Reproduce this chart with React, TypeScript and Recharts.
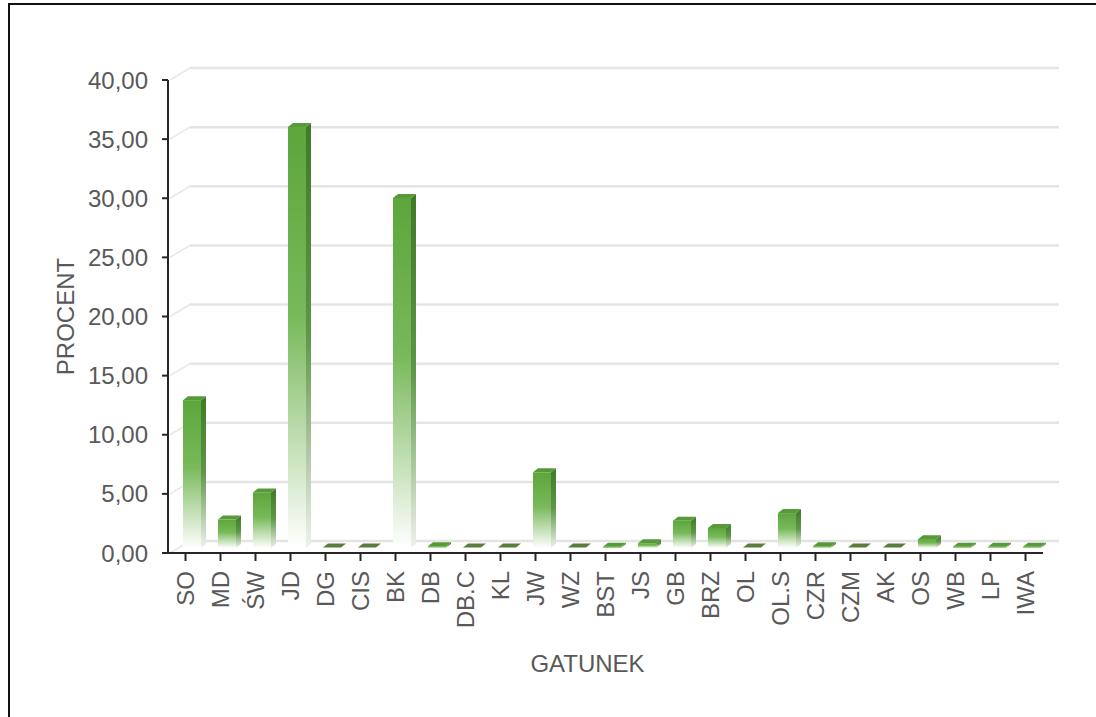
import { BarChart, Bar, XAxis, YAxis, CartesianGrid } from 'recharts'

const categories = [
  'SO', 'MD', 'ŚW', 'JD', 'DG', 'CIS', 'BK', 'DB', 'DB.C', 'KL', 'JW', 'WZ', 'BST',
  'JS', 'GB', 'BRZ', 'OL', 'OL.S', 'CZR', 'CZM', 'AK', 'OS', 'WB', 'LP', 'IWA',
]
const percent = [
  12.5, 2.4, 4.7, 35.6, 0.05, 0.05, 29.6, 0.15, 0.05, 0.05, 6.4, 0.05, 0.1,
  0.4, 2.3, 1.7, 0.05, 2.95, 0.15, 0.05, 0.05, 0.75, 0.1, 0.1, 0.1,
]
const yTicks = [0, 5, 10, 15, 20, 25, 30, 35, 40]

const data = categories.map((name, i) => ({ name, value: percent[i] }))

const FONT = '"Liberation Sans", Arial, sans-serif'
const TEXT = '#595959'
const SIZE = 24
const DEPTH_X = 22
const DEPTH_Y = 12

function fmt(v: number): string {
  return v.toFixed(2).replace('.', ',')
}

function GridLine(props: any) {
  const { x1, y1, x2 } = props
  return (
    <g key={props.key}>
      <line x1={x1 + 2} y1={y1} x2={x1 + DEPTH_X} y2={y1 - DEPTH_Y} stroke="#e6e6ee" strokeWidth={1.5} />
      <line x1={x1 + DEPTH_X} y1={y1 - DEPTH_Y} x2={x2 + 16} y2={y1 - DEPTH_Y} stroke="#e4e4e4" strokeWidth={2.5} />
    </g>
  )
}

function Column(props: any) {
  const { x, y, width, height, index } = props
  const dx = 6
  const dy = -5
  const sx = 5
  const sy = -4
  const L = x + dx
  const R = x + dx + width
  const T = y + dy
  const B = y + dy + height
  const fid = `front-${index}`
  const sid = `side-${index}`
  return (
    <g>
      <defs>
        <linearGradient id={fid} x1="0" y1="0" x2="0" y2="1">
          <stop offset="0" stopColor="#5ca63b" />
          <stop offset="0.45" stopColor="#78b95a" />
          <stop offset="1" stopColor="#ffffff" />
        </linearGradient>
        <linearGradient id={sid} x1="0" y1="0" x2="0" y2="1">
          <stop offset="0" stopColor="#3f7a28" />
          <stop offset="0.5" stopColor="#5f9649" />
          <stop offset="1" stopColor="#eef2ec" />
        </linearGradient>
      </defs>
      {height > 1 && <rect x={L} y={T} width={width} height={height} fill={`url(#${fid})`} />}
      {height > 1 && (
        <polygon
          points={`${R},${T} ${R + sx},${T + sy} ${R + sx},${B + sy} ${R},${B}`}
          fill={`url(#${sid})`}
        />
      )}
      <polygon
        points={`${L},${T} ${L + sx},${T + sy} ${R + sx},${T + sy} ${R},${T}`}
        fill={height > 1 ? '#569a3a' : '#5b7d3c'}
      />
    </g>
  )
}

function CategoryTick(props: any) {
  const { x, y, payload } = props
  return (
    <g transform={`translate(${x},${y})`}>
      <text
        transform="rotate(-90)"
        x={-8}
        y={0}
        dy="0.36em"
        textAnchor="end"
        fill={TEXT}
        fontSize={SIZE}
        fontFamily={FONT}
      >
        {payload.value}
      </text>
    </g>
  )
}

export default function App() {
  return (
    <div style={{ position: 'absolute', left: 0, top: 0, width: 1096, height: 717, overflow: 'hidden', background: '#fff' }}>
      <div
        style={{
          position: 'absolute',
          left: 8,
          top: 3,
          width: 1200,
          height: 900,
          borderTop: '2px solid #111',
          borderLeft: '2px solid #111',
        }}
      />
      <div style={{ position: 'absolute', left: 0, top: 0 }}>
        <BarChart
          width={1096}
          height={717}
          data={data}
          margin={{ top: 80, right: 53, bottom: 0, left: 0 }}
          barSize={18}
        >
          <CartesianGrid vertical={false} horizontal={GridLine as any} />
          <YAxis
            domain={[0, 40]}
            ticks={yTicks}
            interval={0}
            width={168}
            tickFormatter={fmt}
            tick={{ fill: TEXT, fontSize: SIZE, fontFamily: FONT }}
            tickSize={6}
            tickMargin={14}
            axisLine={{ stroke: '#262626', strokeWidth: 2 }}
            tickLine={{ stroke: '#262626', strokeWidth: 2 }}
            label={{
              content: ({ viewBox }: any) => {
                const cx = viewBox.x + 65
                const cy = viewBox.y + viewBox.height / 2
                return (
                  <text
                    x={cx}
                    y={cy}
                    transform={`rotate(-90 ${cx} ${cy})`}
                    textAnchor="middle"
                    dy="0.36em"
                    fill={TEXT}
                    fontSize={SIZE}
                    fontFamily={FONT}
                  >
                    PROCENT
                  </text>
                )
              },
            }}
          />
          <XAxis
            dataKey="name"
            interval={0}
            height={164}
            tick={<CategoryTick />}
            tickSize={8}
            axisLine={{ stroke: '#262626', strokeWidth: 2 }}
            tickLine={{ stroke: '#262626', strokeWidth: 2 }}
            label={{
              content: ({ viewBox }: any) => (
                <text
                  x={viewBox.x + viewBox.width / 2 - 18}
                  y={viewBox.y + 119}
                  textAnchor="middle"
                  fill={TEXT}
                  fontSize={SIZE}
                  fontFamily={FONT}
                >
                  GATUNEK
                </text>
              ),
            }}
          />
          <Bar dataKey="value" shape={<Column />} isAnimationActive={false} />
        </BarChart>
      </div>
    </div>
  )
}
